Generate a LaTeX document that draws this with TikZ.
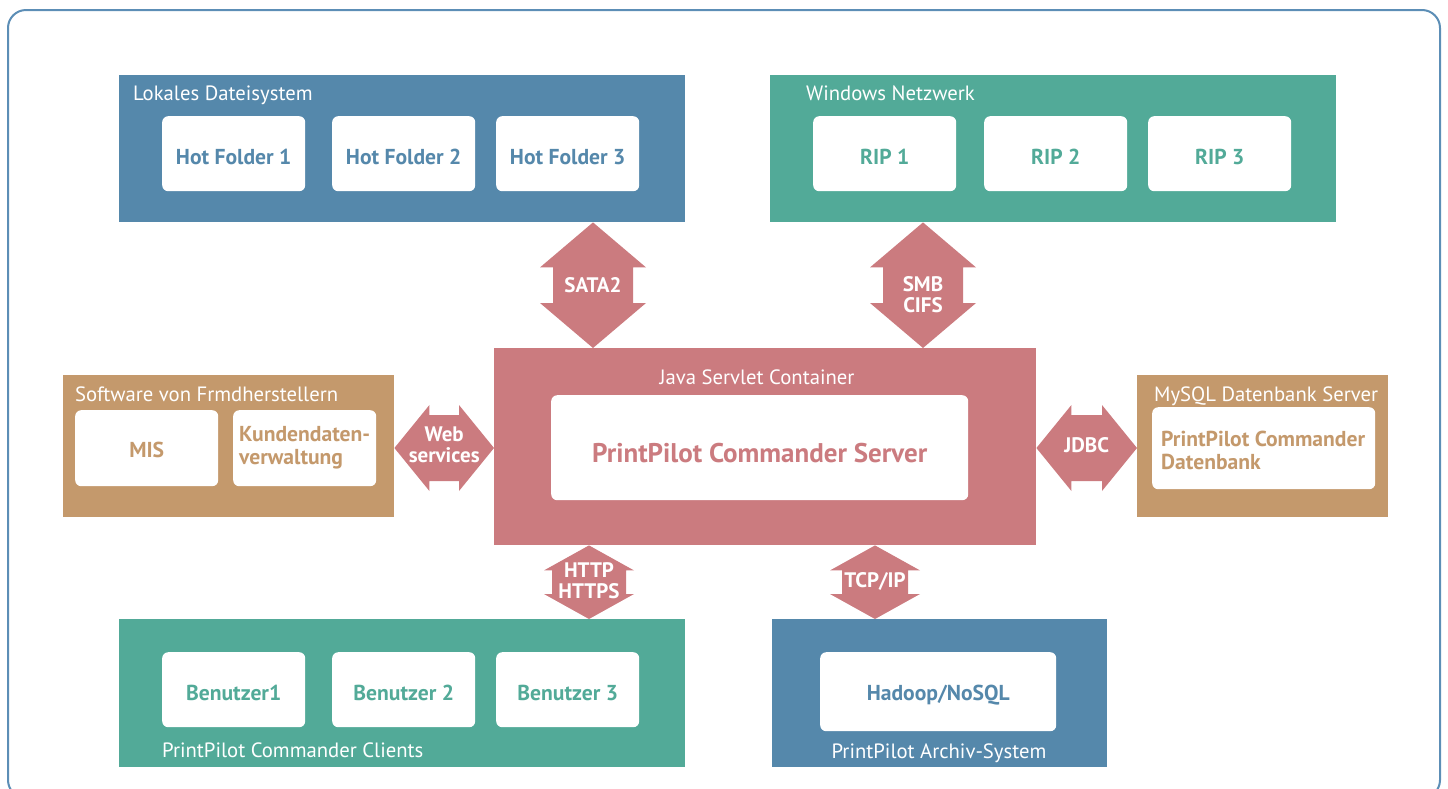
\documentclass[tikz,border=0pt]{standalone}
\usepackage{fontspec}
\setmainfont{PT Sans}
\usetikzlibrary{calc}
\definecolor{ppblue}{RGB}{85,136,171}
\definecolor{ppgreen}{RGB}{82,170,152}
\definecolor{pprose}{RGB}{203,123,127}
\definecolor{pptan}{RGB}{196,153,108}
\definecolor{ppframe}{RGB}{92,142,182}
\tikzset{ g/.style = { rectangle % group
, fill = #1
, anchor = north west
, inner sep = 0pt
}
, b/.style = { rectangle % box in group
, rounded corners = 6pt
, fill = white
, anchor = north west
, inner sep = 0pt
, text = #1
, text height = 21pt
, text depth = 0pt
, font = \bfseries\fontsize{21.6}{23}\selectfont
}
, t/.style = { % group title
, text = white
, inner sep = 0pt
, font = \fontsize{20.7}{24}\selectfont
}
}

% vertical double arrow: name, top anchor, bottom anchor, half head, half shaft, head length, label
\newcommand{\vlink}[7]{%
  \fill[link_style] let \p1=(#1_c |- #2), \p2=(#1_c |- #3) in
    (\p1) -- (\x1+#4, \y1-#6) -- (\x1+#5, \y1-#6) -- (\x1+#5, \y2+#6)
    -- (\x1+#4, \y2+#6) -- (\p2) -- (\x1-#4, \y2+#6) -- (\x1-#5, \y2+#6)
    -- (\x1-#5, \y1-#6) -- (\x1-#4, \y1-#6) -- cycle
    (#1_c) node[link_label] (#1) {#7};}
% horizontal double arrow: name, left anchor, right anchor, half head, half shaft, head length, label
\newcommand{\hlink}[7]{%
  \fill[link_style] let \p1=(#1_c -| #2), \p2=(#1_c -| #3) in
    (\p1) -- (\x1+#6, \y1+#4) -- (\x1+#6, \y1+#5) -- (\x2-#6, \y1+#5)
    -- (\x2-#6, \y1+#4) -- (\p2) -- (\x2-#6, \y1-#4) -- (\x2-#6, \y1-#5)
    -- (\x1+#6, \y1-#5) -- (\x1+#6, \y1-#4) -- cycle
    ({(\x1+\x2)/2}, \y1+3pt) node[link_label] (#1) {#7};}

\begin{document}
\begin{tikzpicture}[x=1pt, y=-1pt,
        link_style/.style={fill=pprose},
        link_label/.style={text=white, align=center, inner sep=0pt, font=\bfseries\fontsize{21}{21}\selectfont},
        small_label/.style={font=\bfseries\fontsize{19}{21}\selectfont},
        frame_style/.style={draw=ppframe, line width=2pt, rounded corners=18pt}]
    \useasboundingbox (0,0) rectangle (1448,788);
    \draw [frame_style] (8,10) rectangle (1440,798);

    % groups
    \node [g=ppblue, minimum width=566pt, minimum height=147pt] (lds) at (119,75) {};
    \node [g=ppgreen, minimum width=566pt, minimum height=147pt] (win) at (770,75) {};
    \node [g=pprose, minimum width=542pt, minimum height=197pt] (jsc) at (494,348) {};
    \node [g=pptan, minimum width=331pt, minimum height=142pt] (sfh) at (63,375) {};
    \node [g=pptan, minimum width=251pt, minimum height=142pt] (mys) at (1137,375) {};
    \node [g=ppgreen, minimum width=566pt, minimum height=148pt] (cli) at (119,619) {};
    \node [g=ppblue, minimum width=335pt, minimum height=148pt] (arc) at (772,619) {};

    % titles
    \node [t, anchor=base west] (lds_t) at (133,100) {Lokales Dateisystem};
    \node [t, anchor=base west] (win_t) at (806,100) {Windows Netzwerk};
    \node [t, anchor=base] (jsc_t) at (757,384) {Java Servlet Container};
    \node [t, anchor=base west] (sfh_t) at (75,401) {Software von Frmdherstellern};
    \node [t, anchor=base west] (mys_t) at (1154,401) {MySQL Datenbank Server};
    \node [t, anchor=base west] (cli_t) at (162,757) {PrintPilot Commander Clients};
    \node [t, anchor=base] (arc_t) at (939,758) {PrintPilot Archiv-System};

    % boxes
    \node [b=ppblue, minimum width=143pt, minimum height=75pt] (hf1) at (162,116) {Hot Folder 1};
    \node [b=ppblue, minimum width=143pt, minimum height=75pt] (hf2) at (332,116) {Hot Folder 2};
    \node [b=ppblue, minimum width=143pt, minimum height=75pt] (hf3) at (496,116) {Hot Folder 3};
    \node [b=ppgreen, minimum width=143pt, minimum height=75pt] (rip1) at (813,116) {RIP 1};
    \node [b=ppgreen, minimum width=143pt, minimum height=75pt] (rip2) at (984,116) {RIP 2};
    \node [b=ppgreen, minimum width=143pt, minimum height=75pt] (rip3) at (1148,116) {RIP 3};
    \node [b=pprose, minimum width=417pt, minimum height=105pt, text height=30pt,
           font=\bfseries\fontsize{27}{30}\selectfont] (pcs) at (551,395) {PrintPilot Commander Server};
    \node [b=pptan, minimum width=143pt, minimum height=76pt, text height=18pt] (mis) at (75,410) {MIS};
    \node [b=pptan, minimum width=143pt, minimum height=76pt, align=left,
           text height={}, text depth={}] (kdv) at (233,410) {Kundendaten-\\verwaltung};
    \node [b=pptan, minimum width=223pt, minimum height=82pt] (pcd) at (1152,407) {};
    \node [text=pptan, anchor=west, align=left, inner sep=0pt,
           font=\bfseries\fontsize{21.6}{23}\selectfont] (pcd_t) at (1161,450) {PrintPilot Commander\\Datenbank};
    \node [b=ppgreen, minimum width=143pt, minimum height=75pt] (bn1) at (162,652) {Benutzer1};
    \node [b=ppgreen, minimum width=143pt, minimum height=75pt] (bn2) at (332,652) {Benutzer 2};
    \node [b=ppgreen, minimum width=143pt, minimum height=75pt] (bn3) at (496,652) {Benutzer 3};
    \node [b=ppblue, minimum width=236pt, minimum height=79pt, text height=18pt] (hdp) at (820,652) {Hadoop/NoSQL};

    % links
    \coordinate (sata_c) at (593,285);
    \coordinate (smb_c)  at (923,295);
    \coordinate (web_c)  at (444,448);
    \coordinate (jdbc_c) at (1086,448);
    \coordinate (http_c) at (589,581);
    \coordinate (tcp_c)  at (875,581);
    \vlink{sata}{lds.south}{jsc.north}{53pt}{40pt}{45pt}{SATA2}
    \vlink{smb}{win.south}{jsc.north}{53pt}{40pt}{45pt}{SMB\\CIFS}
    \hlink{web}{sfh.east}{jsc.west}{43pt}{33pt}{35pt}{Web\\services}
    \hlink{jdbc}{jsc.east}{mys.west}{43pt}{33pt}{35pt}{JDBC}
    \vlink{http}{jsc.south}{cli.north}{45pt}{37pt}{25pt}{\tikzset{small_label}HTTP\\HTTPS}
    \vlink{tcp}{jsc.south}{arc.north}{45pt}{33pt}{25pt}{TCP/IP}
\end{tikzpicture}
\end{document}
